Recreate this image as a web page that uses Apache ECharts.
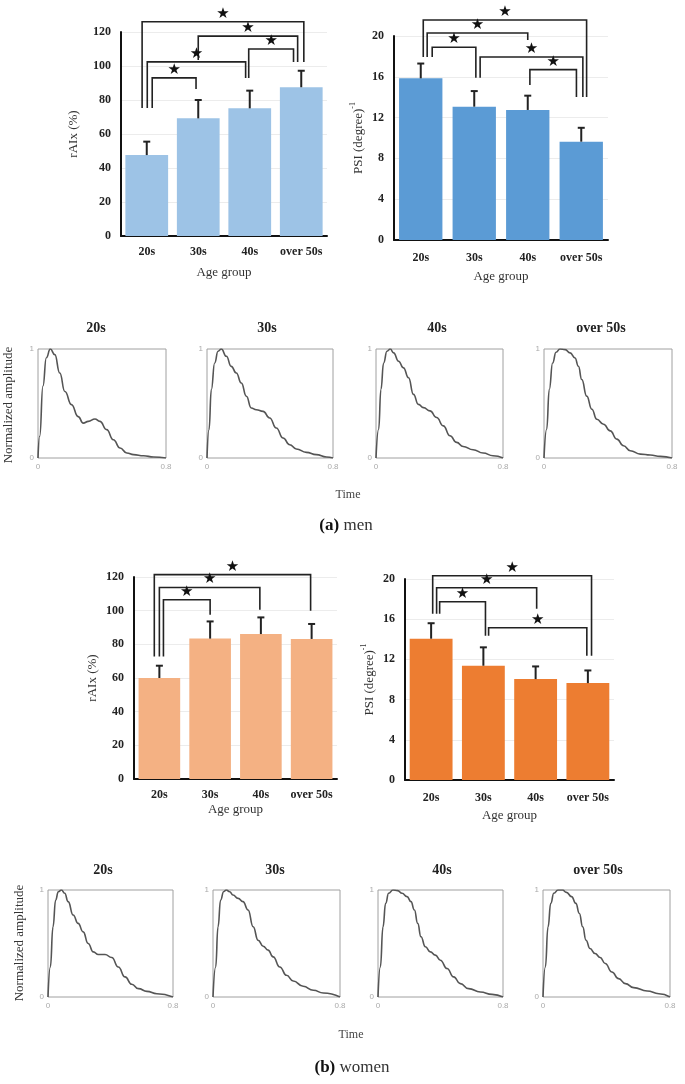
<!DOCTYPE html>
<html><head><meta charset="utf-8">
<script src="https://cdn.jsdelivr.net/npm/echarts@6/dist/echarts.min.js"></script>
<style>html,body{margin:0;padding:0;background:#fff}#c{width:685px;height:1084px}</style>
</head><body><div id="c"></div>
<script>
// ---------- data ----------
const ageGroups = ['20s', '30s', '40s', 'over 50s'];
const raixTicks = [0, 20, 40, 60, 80, 100, 120];
const psiTicks = [0, 4, 8, 12, 16, 20];

const menRaixMean  = [47.6, 69.2, 75.1, 87.5];
const menRaixUpper = [55.5, 80.0, 85.5, 97.2];
const menPsiMean   = [15.85, 13.07, 12.75, 9.64];
const menPsiUpper  = [17.3, 14.6, 14.15, 11.0];
const womenRaixMean  = [60.0, 83.4, 86.1, 83.2];
const womenRaixUpper = [67.3, 93.6, 96.0, 92.1];
const womenPsiMean   = [14.06, 11.37, 10.04, 9.64];
const womenPsiUpper  = [15.6, 13.2, 11.3, 10.9];

// significance brackets: [left idx, right idx, top value, left leg bottom, right leg bottom]
const menRaixBrackets = [
  [-0.09, 3.05, 126, 75.3, 102.4],
  [1.0, 2.93, 117.6, 103.5, 102.4],
  [1.98, 2.85, 110, 93, 102.4],
  [0.01, 1.92, 102.4, 75.3, 93],
  [0.106, 0.957, 93, 75.3, 86.5]
];
const menPsiBrackets = [
  [0.047, 3.1, 21.57, 17.94, 14.02],
  [0.12, 2.0, 20.3, 17.94, 19.6],
  [0.214, 1.03, 18.9, 17.94, 15.9],
  [1.11, 3.03, 17.94, 15.9, 14.02],
  [2.04, 2.91, 16.7, 15.2, 14.02]
];
const womenRaixBrackets = [
  [-0.1, 2.98, 121.4, 72.7, 100],
  [0.0, 1.98, 113.8, 72.7, 100.6],
  [0.08, 1.0, 106.5, 72.7, 97.6]
];
const womenPsiBrackets = [
  [0.03, 3.07, 20.33, 16.54, 12.36],
  [0.105, 2.02, 19.13, 16.54, 17.04],
  [0.163, 1.04, 17.74, 16.54, 14.35],
  [1.1, 2.98, 15.15, 14.35, 12.36]
];

// normalized pulse waves [time, amplitude]
const menWave20s = [[0,0],[0.0105,0.2],[0.031,0.66],[0.052,0.92],[0.077,1.0],[0.105,0.948],[0.136,0.78],[0.168,0.61],[0.209,0.49],[0.251,0.38],[0.283,0.32],[0.314,0.336],[0.356,0.358],[0.387,0.336],[0.429,0.26],[0.471,0.168],[0.513,0.092],[0.555,0.046],[0.597,0.031],[0.66,0.021],[0.722,0.009],[0.8,0]];
const menWave30s = [[0,0],[0.0127,0.26],[0.0275,0.627],[0.0487,0.872],[0.07,0.979],[0.091,1.0],[0.123,0.933],[0.154,0.841],[0.186,0.78],[0.218,0.688],[0.25,0.566],[0.281,0.459],[0.313,0.443],[0.356,0.428],[0.398,0.367],[0.44,0.275],[0.483,0.183],[0.525,0.122],[0.567,0.083],[0.631,0.052],[0.694,0.031],[0.758,0.009],[0.8,0]];
const menWave40s = [[0,0],[0.0167,0.264],[0.031,0.629],[0.048,0.872],[0.069,0.979],[0.09,1.0],[0.111,0.964],[0.142,0.888],[0.173,0.827],[0.205,0.736],[0.236,0.584],[0.267,0.492],[0.299,0.462],[0.34,0.432],[0.382,0.371],[0.424,0.295],[0.466,0.204],[0.508,0.143],[0.549,0.106],[0.612,0.076],[0.675,0.046],[0.737,0.021],[0.8,0]];
const menWave50s = [[0,0],[0.0167,0.264],[0.033,0.629],[0.054,0.872],[0.075,0.97],[0.1,1.0],[0.132,0.994],[0.163,0.964],[0.194,0.918],[0.215,0.842],[0.236,0.72],[0.267,0.568],[0.299,0.447],[0.33,0.356],[0.372,0.31],[0.414,0.249],[0.455,0.173],[0.497,0.112],[0.539,0.067],[0.602,0.036],[0.664,0.027],[0.727,0.015],[0.8,0]];
const womenWave20s = [[0,0],[0.015,0.281],[0.032,0.656],[0.049,0.906],[0.066,0.984],[0.086,1.0],[0.107,0.969],[0.129,0.891],[0.161,0.766],[0.193,0.688],[0.225,0.609],[0.257,0.5],[0.29,0.422],[0.322,0.397],[0.365,0.397],[0.408,0.369],[0.45,0.281],[0.493,0.188],[0.536,0.119],[0.579,0.078],[0.633,0.053],[0.697,0.031],[0.8,0]];
const womenWave30s = [[0,0],[0.0168,0.281],[0.0316,0.656],[0.048,0.906],[0.067,0.984],[0.084,1.0],[0.105,0.984],[0.126,0.953],[0.158,0.922],[0.189,0.891],[0.221,0.813],[0.253,0.656],[0.284,0.531],[0.316,0.475],[0.347,0.438],[0.379,0.375],[0.421,0.281],[0.463,0.203],[0.505,0.15],[0.568,0.1],[0.632,0.063],[0.695,0.038],[0.8,0]];
const womenWave40s = [[0,0],[0.015,0.281],[0.032,0.656],[0.049,0.875],[0.068,0.969],[0.096,1.0],[0.126,0.994],[0.154,0.969],[0.186,0.938],[0.211,0.891],[0.233,0.813],[0.254,0.688],[0.275,0.563],[0.303,0.469],[0.335,0.422],[0.367,0.391],[0.399,0.344],[0.442,0.266],[0.484,0.188],[0.527,0.125],[0.58,0.078],[0.655,0.047],[0.73,0.025],[0.8,0]];
const womenWave50s = [[0,0],[0.0148,0.281],[0.0317,0.656],[0.049,0.875],[0.068,0.969],[0.095,1.0],[0.123,1.0],[0.148,0.978],[0.18,0.938],[0.207,0.875],[0.229,0.781],[0.25,0.656],[0.271,0.531],[0.296,0.453],[0.328,0.406],[0.36,0.369],[0.392,0.313],[0.434,0.234],[0.476,0.172],[0.519,0.125],[0.571,0.088],[0.656,0.056],[0.73,0.031],[0.8,0]];

// ---------- build ----------
const SERIF = '"Liberation Serif","Times New Roman",serif';
const grid = [], xAxis = [], yAxis = [], series = [], graphic = [];

function barPanel(c) {
  const gi = grid.length;
  grid.push({left: c.left, top: c.top, width: c.width, height: c.height, containLabel: false, outerBoundsMode: 'none'});
  const xi = xAxis.length;
  xAxis.push({
    type: 'category', gridIndex: gi, data: ageGroups,
    name: 'Age group', nameLocation: 'middle', nameGap: c.nameGapX,
    nameTextStyle: {fontFamily: SERIF, fontSize: 13, color: '#333'},
    axisLine: {onZero: false, lineStyle: {color: '#111', width: 2}},
    axisTick: {show: false},
    axisLabel: {fontFamily: SERIF, fontWeight: 'bold', fontSize: 12, color: '#222', margin: c.labelMarginX, interval: 0}
  });
  xAxis.push({type: 'value', gridIndex: gi, min: -0.5, max: 3.5, show: false});
  const yi = yAxis.length;
  const ticks = c.ticks;
  yAxis.push({
    type: 'value', gridIndex: gi, min: ticks[0], max: ticks[ticks.length - 1], interval: ticks[1] - ticks[0],
    name: c.yName, nameLocation: 'middle', nameGap: c.nameGapY,
    nameTextStyle: {fontFamily: SERIF, fontSize: 13, color: '#333',
      rich: {n: {fontFamily: SERIF, fontSize: 13, color: '#333', lineHeight: 16, verticalAlign: 'bottom'},
             sup: {fontFamily: SERIF, fontSize: 8, color: '#333', lineHeight: 9, verticalAlign: 'top'}}},
    axisLine: {show: true, onZero: false, lineStyle: {color: '#111', width: 2}},
    axisTick: {show: false},
    axisLabel: {fontFamily: SERIF, fontWeight: 'bold', fontSize: 12, color: '#222', margin: c.labelMarginY},
    splitLine: {lineStyle: {color: '#ececec', width: 1}}
  });
  series.push({type: 'bar', xAxisIndex: xi, yAxisIndex: yi, data: c.mean, barCategoryGap: c.gap,
    itemStyle: {color: c.color}, silent: true, z: 2});
  series.push({
    type: 'custom', xAxisIndex: xi, yAxisIndex: yi, z: 4, silent: true,
    data: c.mean.map((m, i) => [i, m, c.upper[i]]),
    renderItem: (p, api) => {
      const a = api.coord([api.value(0), api.value(1)]);
      const b = api.coord([api.value(0), api.value(2)]);
      return {type: 'group', children: [
        {type: 'line', shape: {x1: a[0], y1: a[1], x2: b[0], y2: b[1]}, style: {stroke: '#222', lineWidth: 2}},
        {type: 'line', shape: {x1: b[0] - 3.5, y1: b[1], x2: b[0] + 3.5, y2: b[1]}, style: {stroke: '#222', lineWidth: 2}}
      ]};
    }
  });
  series.push({
    type: 'custom', xAxisIndex: xi + 1, yAxisIndex: yi, z: 5, clip: false, silent: true,
    data: c.brackets,
    renderItem: (p, api) => {
      const l = api.value(0), r = api.value(1), t = api.value(2), lb = api.value(3), rb = api.value(4);
      const A = api.coord([l, lb]), B = api.coord([l, t]), C = api.coord([r, t]), D = api.coord([r, rb]);
      return {type: 'group', children: [
        {type: 'polyline', shape: {points: [A, B, C, D]}, style: {stroke: '#222', lineWidth: 1.6, fill: null}},
        {type: 'text', x: (B[0] + C[0]) / 2, y: B[1] - 8,
          style: {text: '\u2605', fontFamily: '"DejaVu Sans",sans-serif', fontSize: 15, fill: '#111', align: 'center', verticalAlign: 'middle'}}
      ]};
    }
  });
}

function wavePanel(c) {
  const gi = grid.length;
  grid.push({left: c.left, top: c.top, width: c.width, height: c.height, containLabel: false, outerBoundsMode: 'none',
    show: true, borderColor: '#a0a0a0', borderWidth: 1, backgroundColor: 'transparent'});
  const xi = xAxis.length, yi = yAxis.length;
  xAxis.push({type: 'value', gridIndex: gi, min: 0, max: 0.8, interval: 0.8,
    axisLine: {show: false}, axisTick: {show: false}, splitLine: {show: false},
    axisLabel: {fontFamily: '"Liberation Sans",sans-serif', fontSize: 8, color: '#aaa', margin: 5}});
  yAxis.push({type: 'value', gridIndex: gi, min: 0, max: 1, interval: 1,
    axisLine: {show: false}, axisTick: {show: false}, splitLine: {show: false},
    axisLabel: {fontFamily: '"Liberation Sans",sans-serif', fontSize: 8, color: '#aaa', margin: 4}});
  series.push({type: 'line', xAxisIndex: xi, yAxisIndex: yi, data: c.data, smooth: 0.5, smoothMonotone: 'x',
    symbol: 'none', silent: true, lineStyle: {color: '#555', width: 1.6}});
  graphic.push({type: 'text', x: c.titleX, y: c.titleY,
    style: {text: c.title, fontFamily: SERIF, fontWeight: 'bold', fontSize: 14, fill: '#222', align: 'center', verticalAlign: 'middle'}});
}

// bar panels
barPanel({left: 121, top: 32, width: 206, height: 204, ticks: raixTicks, mean: menRaixMean, upper: menRaixUpper,
  brackets: menRaixBrackets, color: '#9DC3E6', gap: '17%', yName: 'rAIx (%)', nameGapY: 41, nameGapX: 30,
  labelMarginX: 10, labelMarginY: 10});
barPanel({left: 394, top: 36, width: 214, height: 204, ticks: psiTicks, mean: menPsiMean, upper: menPsiUpper,
  brackets: menPsiBrackets, color: '#5B9BD5', gap: '19%', yName: '{n|PSI (degree)}{sup|-1}', nameGapY: 29, nameGapX: 30,
  labelMarginX: 12, labelMarginY: 10});
barPanel({left: 134, top: 577, width: 203, height: 202, ticks: raixTicks, mean: womenRaixMean, upper: womenRaixUpper,
  brackets: womenRaixBrackets, color: '#F4B183', gap: '18%', yName: 'rAIx (%)', nameGapY: 35, nameGapX: 24,
  labelMarginX: 10, labelMarginY: 10});
barPanel({left: 405, top: 579, width: 209, height: 201, ticks: psiTicks, mean: womenPsiMean, upper: womenPsiUpper,
  brackets: womenPsiBrackets, color: '#ED7D31', gap: '18%', yName: '{n|PSI (degree)}{sup|-1}', nameGapY: 29, nameGapX: 29,
  labelMarginX: 12, labelMarginY: 10});

// wave panels - men
wavePanel({left: 38, top: 349, width: 128, height: 109, data: menWave20s, title: ageGroups[0], titleX: 96, titleY: 328});
wavePanel({left: 207, top: 349, width: 126, height: 109, data: menWave30s, title: ageGroups[1], titleX: 267, titleY: 328});
wavePanel({left: 376, top: 349, width: 127, height: 109, data: menWave40s, title: ageGroups[2], titleX: 437, titleY: 328});
wavePanel({left: 544, top: 349, width: 128, height: 109, data: menWave50s, title: ageGroups[3], titleX: 601, titleY: 328});
// wave panels - women
wavePanel({left: 48, top: 890, width: 125, height: 107, data: womenWave20s, title: ageGroups[0], titleX: 103, titleY: 870});
wavePanel({left: 213, top: 890, width: 127, height: 107, data: womenWave30s, title: ageGroups[1], titleX: 275, titleY: 870});
wavePanel({left: 378, top: 890, width: 125, height: 107, data: womenWave40s, title: ageGroups[2], titleX: 442, titleY: 870});
wavePanel({left: 543, top: 890, width: 127, height: 107, data: womenWave50s, title: ageGroups[3], titleX: 598, titleY: 870});

// shared labels
function txt(text, x, y, size, opts) {
  graphic.push(Object.assign({type: 'text', x: x, y: y,
    style: Object.assign({text: text, fontFamily: SERIF, fontSize: size, fill: '#333', align: 'center', verticalAlign: 'middle'}, opts && opts.style)},
    opts && opts.el));
}
txt('Normalized amplitude', 9, 405, 13, {el: {rotation: Math.PI / 2}});
txt('Normalized amplitude', 20, 943, 13, {el: {rotation: Math.PI / 2}});
txt('Time', 348, 495, 12, {style: {fill: '#444'}});
txt('Time', 351, 1035, 12, {style: {fill: '#444'}});
const capRich = {b: {fontFamily: SERIF, fontWeight: 'bold', fontSize: 17, fill: '#111'},
                 n: {fontFamily: SERIF, fontSize: 17, fill: '#333'}};
txt('{b|(a)}{n| men}', 346, 526, 17, {style: {rich: capRich}});
txt('{b|(b)}{n| women}', 352, 1068, 17, {style: {rich: capRich}});

const chart = echarts.init(document.getElementById('c'));
chart.setOption({
  animation: false,
  backgroundColor: '#fff',
  grid: grid, xAxis: xAxis, yAxis: yAxis, series: series, graphic: graphic
});
</script>
</body></html>
